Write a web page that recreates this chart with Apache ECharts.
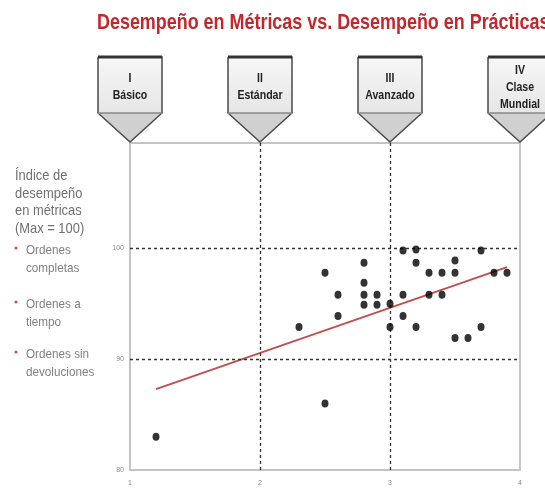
<!DOCTYPE html>
<html>
<head>
<meta charset="utf-8">
<script src="https://cdn.jsdelivr.net/npm/echarts@6/dist/echarts.min.js"></script>
<style>
html,body{margin:0;padding:0;background:#fff;}
#c{width:545px;height:490px;}
</style>
</head>
<body>
<div id="c"></div>
<script>
// ---- data ----
const practiceScores = [3.1, 3.2, 3.2, 3.7, 2.5, 2.8, 3.3, 3.4, 3.5, 3.5, 3.8, 3.9, 2.8, 2.6, 2.8, 2.9, 3.1, 3.3, 3.4, 2.8, 2.9, 3.0, 2.6, 3.1, 2.3, 3.0, 3.2, 3.7, 3.5, 3.6, 2.5, 1.2];
const metricScores   = [99.8, 99.9, 98.7, 99.8, 97.8, 98.7, 97.8, 97.8, 98.9, 97.8, 97.8, 97.8, 96.9, 95.8, 95.8, 95.8, 95.8, 95.8, 95.8, 94.9, 94.9, 95.0, 93.9, 93.9, 92.9, 92.9, 92.9, 92.9, 91.9, 91.9, 86.0, 83.0];
const trendX = [1.2, 3.9];
const trendY = [87.3, 98.3];
const xTicks = [1, 2, 3, 4];
const yTicks = [80, 90, 100];
const refX = [2, 3];
const refY = [90, 100];
const levelNumerals = ['I', 'II', 'III', 'IV'];
const levelNames = ['Básico', 'Estándar', 'Avanzado', 'Clase\nMundial'];
const levelX = [1, 2, 3, 4];
const titleText = 'Desempeño en Métricas vs. Desempeño en Prácticas';
const yHeading = ['Índice de', 'desempeño', 'en métricas', '(Max = 100)'];
const bullets = ['Ordenes\ncompletas', 'Ordenes a\ntiempo', 'Ordenes sin\ndevoluciones'];

const FONT = '"Liberation Sans", Arial, sans-serif';

const chart = echarts.init(document.getElementById('c'), null, {renderer: 'canvas'});

const points = practiceScores.map((x, i) => [x, metricScores[i]]);
const trend = trendX.map((x, i) => [x, trendY[i]]);

const option = {
  animation: false,
  backgroundColor: '#fff',
  grid: {
    left: 130, right: 25, top: 143, bottom: 20,
    show: true, borderColor: '#c4c4c4', borderWidth: 2, backgroundColor: 'transparent'
  },
  xAxis: {
    type: 'value', min: 1, max: 4, interval: 1,
    axisLine: {show: false},
    axisTick: {show: false},
    splitLine: {show: false},
    axisLabel: {customValues: xTicks, fontSize: 7, color: '#888', margin: 10, fontFamily: FONT}
  },
  yAxis: {
    type: 'value', min: 80, max: 109.5, interval: 10,
    axisLine: {show: false},
    axisTick: {show: false},
    splitLine: {show: false},
    axisLabel: {customValues: yTicks, fontSize: 7, color: '#8a8aa8', margin: 6, fontFamily: FONT}
  },
  series: [
    {
      type: 'line',
      data: trend,
      symbol: 'none',
      lineStyle: {color: '#c0504d', width: 2},
      z: 3,
      markLine: {
        silent: true,
        symbol: 'none',
        label: {show: false},
        lineStyle: {color: '#333', type: [3, 3], width: 1.3},
        data: refY.map(v => ({yAxis: v})).concat(refX.map(v => ({xAxis: v})))
      }
    },
    {
      type: 'scatter',
      data: points,
      symbol: 'circle',
      symbolSize: [7, 8],
      itemStyle: {color: '#000'},
      z: 5
    }
  ]
};
chart.setOption(option);

// Decorative level pentagons anchored to x-axis values
function buildGraphics() {
  const els = [];
  const topY = 57, boxBottom = 113, tipY = 142, hw = 32;
  els.push({type: 'text', x: 97, y: 23, scaleX: 0.815, z: 10,
    style: {text: titleText, fill: '#c3262b', font: 'bold 22px ' + FONT, verticalAlign: 'middle'}});
  levelX.forEach((v, i) => {
    const cx = chart.convertToPixel({xAxisIndex: 0}, v);
    els.push({
      type: 'group', x: cx, y: 0, z: 10,
      children: [
        {type: 'polygon', shape: {points: [[-hw, topY], [hw, topY], [hw, boxBottom], [-hw, boxBottom]]},
         style: {fill: new echarts.graphic.LinearGradient(0, 0, 0, 1, [{offset: 0, color: '#f7f7f7'}, {offset: 1, color: '#e6e6e6'}]), stroke: null}},
        {type: 'polygon', shape: {points: [[-hw, boxBottom], [hw, boxBottom], [0, tipY]]},
         style: {fill: '#d0d0d0', stroke: null}},
        {type: 'polyline', shape: {points: [[-hw, topY], [hw, topY], [hw, boxBottom], [0, tipY], [-hw, boxBottom], [-hw, topY]]},
         style: {stroke: '#4a4a4a', lineWidth: 1.5, fill: null}},
        {type: 'line', shape: {x1: -hw, y1: topY, x2: hw, y2: topY}, style: {stroke: '#333', lineWidth: 3}},
        {type: 'line', shape: {x1: -hw, y1: boxBottom, x2: hw, y2: boxBottom}, style: {stroke: '#888', lineWidth: 1.5}},
        {type: 'text', x: 0, y: 87.5, scaleX: 0.88,
         style: {text: levelNumerals[i] + '\n' + levelNames[i], fill: '#222', font: 'bold 12px ' + FONT,
                 align: 'center', verticalAlign: 'middle', lineHeight: 17}}
      ]
    });
  });
  // left heading
  els.push({type: 'text', x: 15, y: 167, scaleX: 0.86,
    style: {text: yHeading.join('\n'), fill: '#707070', font: '15px ' + FONT, lineHeight: 17.7}});
  const bulletY = [241, 295, 345];
  bullets.forEach((b, i) => {
    els.push({type: 'circle', shape: {cx: 16, cy: bulletY[i] + 7, r: 1.6}, style: {fill: '#d0563a'}});
    els.push({type: 'text', x: 26, y: bulletY[i], scaleX: 0.9,
      style: {text: b, fill: '#808080', font: '13px ' + FONT, lineHeight: 18}});
  });
  return els;
}
chart.setOption({graphic: buildGraphics()});
</script>
</body>
</html>
